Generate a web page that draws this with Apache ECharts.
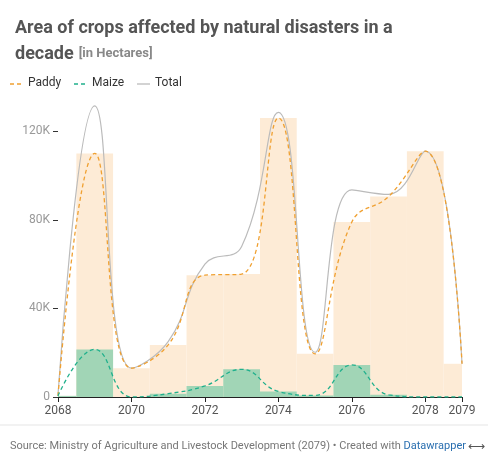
<!DOCTYPE html>
<html>
<head>
<meta charset="utf-8">
<script src="https://cdn.jsdelivr.net/npm/echarts@6/dist/echarts.min.js"></script>
<style>
  html, body { margin: 0; padding: 0; background: #fff; }
  #main { width: 488px; height: 466px; }
</style>
</head>
<body>
<div id="main"></div>
<script>
// data (hectares)
var years = [2068, 2069, 2070, 2071, 2072, 2073, 2074, 2075, 2076, 2077, 2078, 2079];
var paddy = [500, 110000, 13000, 23500, 55000, 55500, 126000, 19500, 79000, 90500, 111000, 15000];
var maize = [500, 21500, 0, 1500, 5000, 12500, 2500, 700, 14500, 1000, 0, 0];
var total = [1000, 131500, 13000, 25000, 60000, 68000, 128500, 20200, 93500, 91500, 111000, 15000];
var xTicks = [2068, 2070, 2072, 2074, 2076, 2078, 2079];
var yTicks = [0, 40000, 80000, 120000];

var chart = echarts.init(document.getElementById('main'));

function pairs(vals) {
  return years.map(function (y, i) { return [y, vals[i]]; });
}

// step bars one year wide, centred on each year, clipped to the plot
function stepBar(color) {
  return function (params, api) {
    var x = api.value(0), v = api.value(1);
    var p0 = api.coord([x - 0.5, v]);
    var p1 = api.coord([x + 0.5, 0]);
    var rect = echarts.graphic.clipRectByRect(
      { x: p0[0], y: p0[1], width: p1[0] - p0[0], height: p1[1] - p0[1] },
      { x: params.coordSys.x, y: params.coordSys.y, width: params.coordSys.width, height: params.coordSys.height }
    );
    if (!rect) return;
    return { type: 'rect', shape: rect, style: { fill: color } };
  };
}

// hand-drawn legend
function legendItem(x, label, color, dash) {
  return [
    { type: 'line', shape: { x1: x, y1: 84, x2: x + 13, y2: 84 },
      style: { stroke: color, lineWidth: 1.3, lineDash: dash } },
    { type: 'text', x: x + 18, y: 77,
      style: { text: label, fontFamily: 'Roboto', fontSize: 12, fill: '#333' } }
  ];
}

var option = {
  animation: false,
  title: {
    left: 10, top: 10,
    text: '{b|Area of crops affected by natural disasters in a}\n{b|decade} {s|[in Hectares]}',
    textStyle: {
      rich: {
        b: { fontFamily: 'Roboto', fontSize: 18, fontWeight: 'bold', color: '#555', lineHeight: 26 },
        s: { fontFamily: 'Roboto', fontSize: 13, color: '#888', lineHeight: 26 }
      }
    }
  },
  grid: { left: 58, right: 26, top: 87, bottom: 69 },
  xAxis: {
    type: 'value', min: 2068, max: 2079,
    splitLine: { show: false },
    axisLine: { lineStyle: { color: '#222' } },
    axisTick: { show: true, customValues: xTicks, lineStyle: { color: '#222' } },
    axisLabel: {
      customValues: xTicks, color: '#555', fontFamily: 'Roboto', fontSize: 12, margin: 8,
      formatter: function (v) { return String(v); }
    }
  },
  yAxis: {
    type: 'value', min: 0, max: 140000,
    splitLine: { show: false },
    axisLine: { show: false },
    axisTick: { show: true, customValues: yTicks, length: 5, lineStyle: { color: '#333' } },
    axisLabel: {
      customValues: yTicks,
      color: '#999', fontFamily: 'Roboto', fontSize: 12, margin: 8,
      formatter: function (v) { return v === 0 ? '0' : (v / 1000) + 'K'; }
    }
  },
  series: [
    { type: 'custom', renderItem: stepBar('#fdebd6'), data: pairs(paddy), z: 1, silent: true },
    { type: 'custom', renderItem: stepBar('#a1d5b6'), data: pairs(maize), z: 2, silent: true },
    {
      name: 'Paddy', type: 'line', smooth: 0.45, showSymbol: false, data: pairs(paddy), z: 4,
      lineStyle: { color: '#f0a030', width: 1.3, type: [4, 3] }
    },
    {
      name: 'Maize', type: 'line', smooth: 0.45, showSymbol: false, data: pairs(maize), z: 4,
      lineStyle: { color: '#20b08c', width: 1.3, type: [4, 3] }
    },
    {
      name: 'Total', type: 'line', smooth: 0.45, showSymbol: false, data: pairs(total), z: 3,
      lineStyle: { color: '#bbbbbb', width: 1.2 }
    }
  ],
  graphic: [].concat(
    legendItem(10, 'Paddy', '#f0a030', [4, 3]),
    legendItem(74, 'Maize', '#20b08c', [4, 3]),
    legendItem(137, 'Total', '#bbbbbb', null),
    [
      { type: 'line', shape: { x1: 0, y1: 425, x2: 488, y2: 425 }, style: { stroke: '#e5e5e5' } },
      {
        type: 'text', x: 10, y: 441,
        style: {
          text: '{g|Source: Ministry of Agriculture and Livestock Development (2079) • Created with }{l|Datawrapper}',
          rich: {
            g: { fontFamily: 'Roboto', fontSize: 11, fill: '#777' },
            l: { fontFamily: 'Roboto', fontSize: 11, fill: '#2a6fb0' }
          }
        }
      },
      { type: 'text', x: 468, y: 441, style: { text: '⟷', fontSize: 12, fill: '#555' } }
    ]
  )
};
chart.setOption(option);
</script>
</body>
</html>
